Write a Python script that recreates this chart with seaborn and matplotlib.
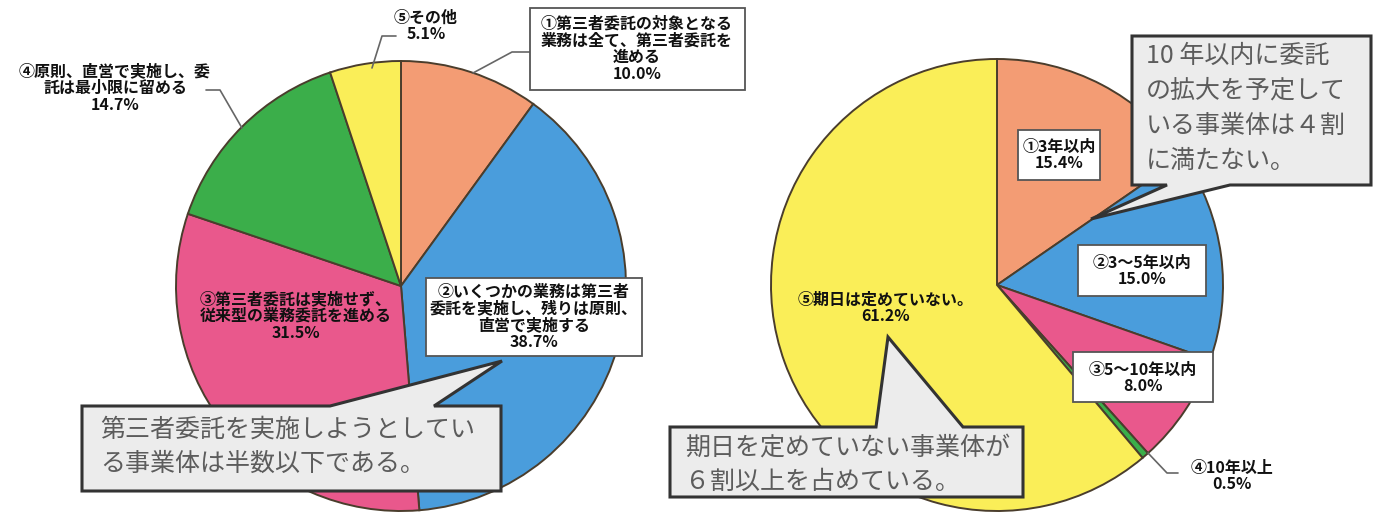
import matplotlib
matplotlib.use("Agg")
import matplotlib.pyplot as plt
import seaborn as sns
from matplotlib.patches import Polygon, Rectangle

# Survey 1: intentions regarding third-party outsourcing
policy_labels = [
    "①第三者委託の対象となる\n業務は全て、第三者委託を\n進める",
    "②いくつかの業務は第三者\n委託を実施し、残りは原則、\n直営で実施する",
    "③第三者委託は実施せず、\n従来型の業務委託を進める",
    "④原則、直営で実施し、委\n託は最小限に留める",
    "⑤その他",
]
policy_shares = [10.0, 38.7, 31.5, 14.7, 5.1]

# Survey 2: planned timing for expanding outsourcing
timing_labels = ["①3年以内", "②3～5年以内", "③5～10年以内", "④10年以上", "⑤期日は定めていない。"]
timing_shares = [15.4, 15.0, 8.0, 0.5, 61.2]

policy_note = ["第三者委託を実施しようとしてい", "る事業体は半数以下である。"]
timing_note_top = ["10 年以内に委託", "の拡大を予定して", "いる事業体は４割", "に満たない。"]
timing_note_bottom = ["期日を定めていない事業体が", "６割以上を占めている。"]

slice_colors = ["#F39C74", "#4A9DDC", "#E9588C", "#3BAE4A", "#FAEE58"]

sns.set_theme(style="white")
plt.rcParams["font.family"] = ["Noto Sans CJK JP", "DejaVu Sans"]

W, H = 1379, 515
fig = plt.figure(figsize=(W / 100, H / 100), dpi=100)
ax = fig.add_axes([0, 0, 1, 1])

wedge_style = dict(edgecolor="#4a3d2c", linewidth=1.4)
# y axis runs downward, so start at -90 and go counterclockwise in data terms
ax.pie(policy_shares, colors=slice_colors, startangle=-90, counterclock=True,
       center=(401, 286), radius=225, wedgeprops=wedge_style)
ax.pie(timing_shares, colors=slice_colors, startangle=-90, counterclock=True,
       center=(997, 285), radius=226, wedgeprops=wedge_style)

ax.set_xlim(0, W)
ax.set_ylim(H, 0)
ax.set_aspect("auto")
ax.axis("off")

lab_kw = dict(fontsize=11.5, fontweight="bold", color="#111111", ha="center",
              va="center", linespacing=1.05, zorder=6)


def boxed(x0, y0, x1, y1):
    ax.add_patch(Rectangle((x0, y0), x1 - x0, y1 - y0, facecolor="white",
                           edgecolor="#555555", linewidth=1.3, zorder=5))


def leader(pts):
    xs, ys = zip(*pts)
    ax.plot(xs, ys, color="#666666", linewidth=1.2, zorder=4)


def pct(v):
    return f"{v:.1f}%"


# labels for the left pie
boxed(530, 8, 745, 90)
leader([(473, 73), (512, 52), (530, 52)])
ax.text(637, 49, policy_labels[0] + "\n" + pct(policy_shares[0]), **lab_kw)

boxed(426, 278, 642, 356)
ax.text(534, 317, policy_labels[1] + "\n" + pct(policy_shares[1]), **lab_kw)

ax.text(296, 316, policy_labels[2] + "\n" + pct(policy_shares[2]), **lab_kw)

leader([(242, 128), (220, 90), (206, 90)])
ax.text(115, 88, policy_labels[3] + "\n" + pct(policy_shares[3]), **lab_kw)

leader([(372, 68), (382, 36), (396, 36)])
ax.text(426, 26, policy_labels[4] + "\n" + pct(policy_shares[4]), **lab_kw)

# labels for the right pie
boxed(1018, 130, 1100, 180)
ax.text(1059, 155, timing_labels[0] + "\n" + pct(timing_shares[0]), **lab_kw)

boxed(1078, 245, 1206, 296)
ax.text(1142, 271, timing_labels[1] + "\n" + pct(timing_shares[1]), **lab_kw)

boxed(1073, 352, 1213, 402)
ax.text(1143, 378, timing_labels[2] + "\n" + pct(timing_shares[2]), **lab_kw)

leader([(1148, 453), (1167, 473), (1178, 473)])
ax.text(1232, 476, timing_labels[3] + "\n" + pct(timing_shares[3]), **lab_kw)

ax.text(886, 308, timing_labels[4] + "\n" + pct(timing_shares[4]), **lab_kw)

# speech-bubble notes
bubble_kw = dict(facecolor="#ECECEC", edgecolor="#333333", linewidth=2.2,
                 joinstyle="miter", zorder=7)
note_kw = dict(fontsize=18, color="#5c5c5c", ha="left", va="center", zorder=8)

ax.add_patch(Polygon([(82, 406), (330, 406), (502, 361), (434, 406), (501, 406),
                      (501, 491), (82, 491)], closed=True, **bubble_kw))
for i, line in enumerate(policy_note):
    ax.text(100, 430 + i * 34, line, **note_kw)

ax.add_patch(Polygon([(1132, 36), (1371, 36), (1371, 185), (1230, 185),
                      (1091, 219), (1167, 185), (1132, 185)], closed=True, **bubble_kw))
for i, line in enumerate(timing_note_top):
    ax.text(1146, 56 + i * 35, line, **note_kw)

ax.add_patch(Polygon([(670, 427), (876, 427), (888, 337), (963, 427), (1023, 427),
                      (1023, 497), (670, 497)], closed=True, **bubble_kw))
for i, line in enumerate(timing_note_bottom):
    ax.text(685, 448 + i * 34, line, **note_kw)

fig.savefig("out.png", dpi=100, facecolor="white")
